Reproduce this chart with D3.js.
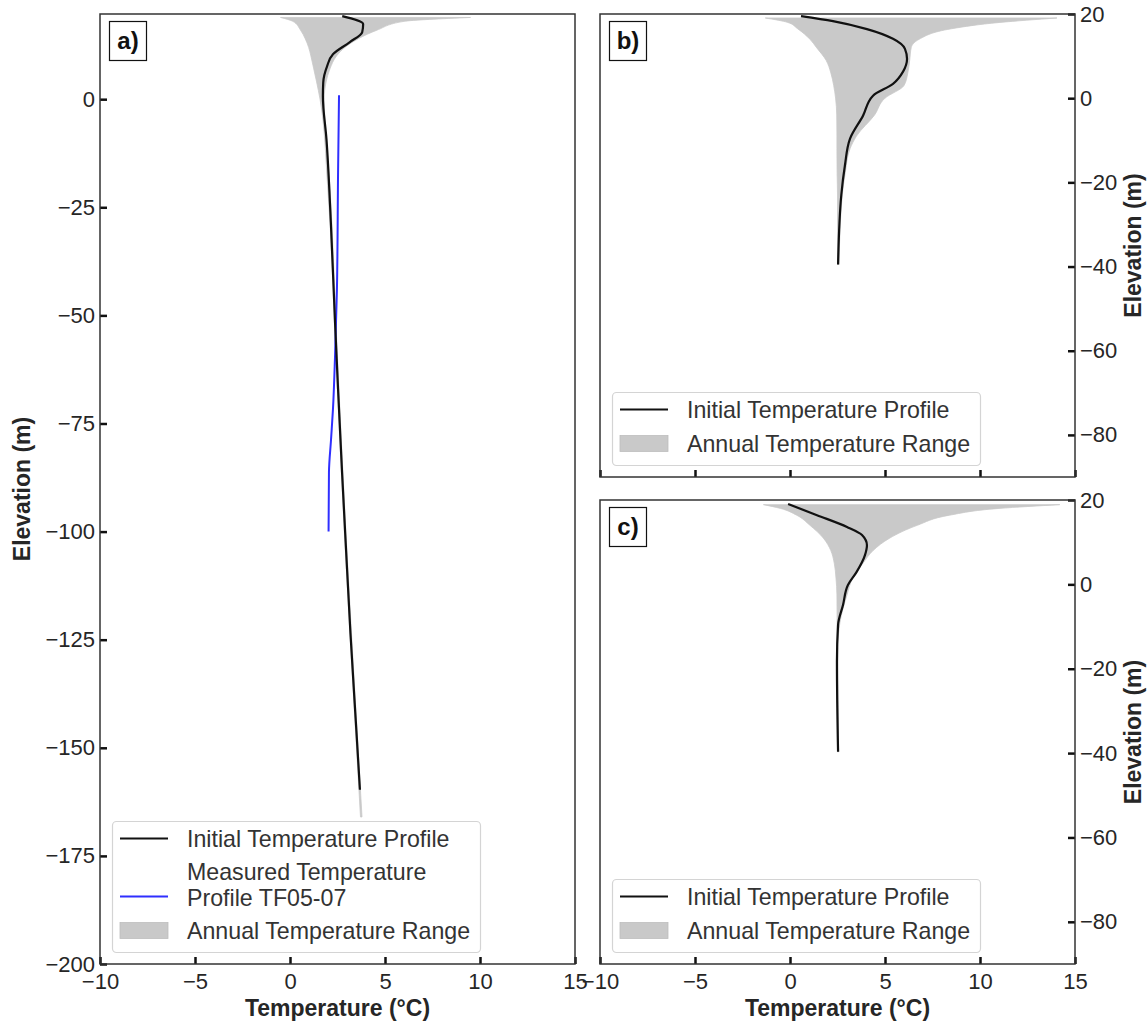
<!DOCTYPE html>
<html><head><meta charset="utf-8">
<script src="https://cdn.jsdelivr.net/npm/d3@7"></script>
<style>
body{margin:0;background:#fff}
svg{display:block}
text{font-family:"Liberation Sans",Arial,sans-serif}
</style>
</head><body>
<svg id="chart" width="1148" height="1022"></svg>
<script>
// ---------- DATA ----------
const tempTicks = [-10, -5, 0, 5, 10, 15];
const elevTicksA = [0, -25, -50, -75, -100, -125, -150, -175, -200];
const elevTicksBC = [20, 0, -20, -40, -60, -80];

// Panel a
const profileA_elev = [19.2, 17.4, 15.5, 13.2, 10.4, 7.6, 3.9, 0.7, -9.3, -28.5, -51.6, -67.1, -86.3, -104.2, -123.4, -146.5, -159.7];
const profileA_temp = [2.75, 3.85, 3.8, 3.15, 2.26, 1.95, 1.75, 1.73, 1.92, 2.15, 2.37, 2.53, 2.74, 2.95, 3.18, 3.5, 3.68];
const measuredA_elev = [0.9, -16.9, -44, -59.5, -71.8, -78.7, -86.3, -100];
const measuredA_temp = [2.58, 2.53, 2.47, 2.37, 2.26, 2.16, 2.05, 2.03];
const rangeA_elev = [18.9, 18, 16, 14, 12, 10, 7, 4, 0, -20, -60, -100, -140, -166];
const rangeA_low  = [-0.5, 0.15, 0.55, 0.8, 0.98, 1.1, 1.25, 1.4, 1.58, 1.98, 2.42, 2.86, 3.37, 3.71];
const rangeA_high = [9.5, 6.0, 4.6, 3.6, 2.9, 2.45, 2.1, 1.9, 1.8, 2.1, 2.5, 2.94, 3.45, 3.79];

// Panel b
const profileB_elev = [19.5, 18.3, 16.4, 14.1, 11.7, 9.3, 6.3, 3.4, 0.6, -4.2, -9.6, -16, -23, -39.5];
const profileB_temp = [0.58, 2.26, 4.05, 5.42, 6.05, 6.16, 5.95, 5.42, 4.37, 3.84, 3.16, 2.89, 2.7, 2.53];
const rangeB_elev = [19.05, 18, 16.5, 14, 12, 9, 6, 3, 0, -4, -9, -12, -18, -23, -39.5];
const rangeB_low  = [-1.3, -0.12, 0.4, 1.05, 1.4, 1.9, 2.15, 2.3, 2.4, 2.46, 2.47, 2.47, 2.48, 2.5, 2.5];
const rangeB_high = [14.05, 11.05, 8.5, 6.8, 6.38, 6.3, 6.2, 6.0, 5.0, 4.45, 3.5, 3.16, 2.9, 2.75, 2.58];

// Panel c
const profileC_elev = [19.05, 16.4, 13.6, 11.7, 9.3, 7.0, 2.9, -0.15, -4.9, -9.6, -18.4, -39.7];
const profileC_temp = [-0.1, 1.42, 3.0, 3.79, 4.05, 3.95, 3.5, 3.05, 2.79, 2.53, 2.47, 2.53];
const rangeC_elev = [18.9, 18, 16.4, 14, 11, 8, 5, 1.5, -2.5, -9, -15, -39.7];
const rangeC_low  = [-1.4, -0.5, 0.35, 1.05, 1.75, 2.15, 2.33, 2.42, 2.47, 2.48, 2.46, 2.5];
const rangeC_high = [14.2, 11.0, 8.4, 6.7, 5.26, 4.37, 3.84, 3.3, 3.0, 2.63, 2.52, 2.56];

const legendA = ["Initial Temperature Profile", ["Measured Temperature", "Profile TF05-07"], "Annual Temperature Range"];
const legendBC = ["Initial Temperature Profile", "Annual Temperature Range"];

// ---------- DRAW ----------
const svg = d3.select('#chart');
const TXT = '#262626';
const FILL = '#c9c9c9';
const fmt = d => d < 0 ? '\u2212' + Math.abs(d) : String(d);
const zip2 = (e, t) => e.map((v, i) => ({e: v, t: t[i]}));
const zip3 = (e, lo, hi) => e.map((v, i) => ({e: v, lo: lo[i], hi: hi[i]}));

function panel(cfg) {
  const {x0, x1, y0, y1, id} = cfg;
  const x = d3.scaleLinear().domain([-10, 15]).range([x0, x1]);
  const y = d3.scaleLinear().domain(cfg.yDom).range([y1, y0]);
  const g = svg.append('g');
  g.append('clipPath').attr('id', 'clip' + id)
    .append('rect').attr('x', x0).attr('y', y0).attr('width', x1 - x0).attr('height', y1 - y0);
  const plot = g.append('g').attr('clip-path', `url(#clip${id})`);

  plot.append('path').datum(zip3(cfg.rE, cfg.rL, cfg.rH))
    .attr('d', d3.area().y(d => y(d.e)).x0(d => x(d.lo)).x1(d => x(d.hi)).curve(d3.curveMonotoneY))
    .attr('fill', FILL).attr('stroke', FILL).attr('stroke-width', 0.8);

  const line = d3.line().y(d => y(d.e)).x(d => x(d.t)).curve(d3.curveMonotoneY);
  if (cfg.mE) {
    plot.append('path').datum(zip2(cfg.mE, cfg.mT)).attr('d', line)
      .attr('fill', 'none').attr('stroke', '#2f2fff').attr('stroke-width', 2);
  }
  plot.append('path').datum(zip2(cfg.pE, cfg.pT)).attr('d', line)
    .attr('fill', 'none').attr('stroke', '#111').attr('stroke-width', 2.2);

  // axes
  const xa = d3.axisBottom(x).tickValues(tempTicks).tickSizeInner(-7).tickSizeOuter(0).tickPadding(9)
    .tickFormat(cfg.xLabels ? fmt : () => '');
  const gx = g.append('g').attr('transform', `translate(0,${y1})`).call(xa);
  let ya;
  if (cfg.yRight) ya = d3.axisRight(y);
  else ya = d3.axisLeft(y);
  ya.tickValues(cfg.yTicks).tickSizeInner(-7).tickSizeOuter(0).tickPadding(5).tickFormat(fmt);
  const gy = g.append('g').attr('transform', `translate(${cfg.yRight ? x1 : x0},0)`).call(ya);
  [gx, gy].forEach(a => {
    a.select('.domain').remove();
    a.selectAll('.tick line').attr('stroke', '#111').attr('stroke-width', 2.5);
    a.selectAll('.tick text').attr('fill', TXT).style('font-size', '22px')
      .style('font-family', '"Liberation Sans",Arial,sans-serif');
  });

  // frame
  g.append('rect').attr('x', x0).attr('y', y0).attr('width', x1 - x0).attr('height', y1 - y0)
    .attr('fill', 'none').attr('stroke', '#333').attr('stroke-width', 1.5);

  // panel label
  g.append('rect').attr('x', x0 + 9.5).attr('y', y0 + 7.5).attr('width', 37).attr('height', 39)
    .attr('fill', '#fff').attr('stroke', '#111').attr('stroke-width', 1.2);
  g.append('text').attr('x', x0 + 28).attr('y', y0 + 35).attr('text-anchor', 'middle')
    .attr('font-weight', 'bold').attr('font-size', 24).attr('fill', '#111').text(cfg.label);

  // axis labels
  if (cfg.xLabels) {
    g.append('text').attr('x', (x0 + x1) / 2).attr('y', 1016).attr('text-anchor', 'middle')
      .attr('font-weight', 'bold').attr('font-size', 23).attr('fill', TXT).text('Temperature (\u00B0C)');
  }
  const ly = (y0 + y1) / 2;
  const lx = cfg.yRight ? 1141 : 30;
  g.append('text').attr('transform', `translate(${lx},${ly}) rotate(-90)`).attr('text-anchor', 'middle')
    .attr('font-weight', 'bold').attr('font-size', 23).attr('fill', TXT).text('Elevation (m)');

  // legend
  const items = cfg.legend;
  const rowH = 34;
  const lh = cfg.legendH;
  const lxx = x0 + 12, lyy = y1 - 12 - lh;
  const lg = g.append('g');
  lg.append('rect').attr('x', lxx + 0.5).attr('y', lyy + 0.5).attr('width', 368).attr('height', lh)
    .attr('rx', 4).attr('fill', '#fff').attr('fill-opacity', 0.8).attr('stroke', '#d4d4d4').attr('stroke-width', 1.2);
  let cy = lyy + 17.5;
  items.forEach((it, i) => {
    const isLast = i === items.length - 1;
    const multi = Array.isArray(it);
    const center = multi ? cy + 12 : cy;
    if (isLast) {
      lg.append('rect').attr('x', lxx + 8).attr('y', center - 8).attr('width', 48).attr('height', 16)
        .attr('fill', FILL).attr('stroke', '#bdbdbd').attr('stroke-width', 0.8);
    } else {
      const ly2 = center + (multi ? 12 : 0);
      lg.append('line').attr('x1', lxx + 8).attr('x2', lxx + 56).attr('y1', ly2).attr('y2', ly2)
        .attr('stroke', i === 1 ? '#2f2fff' : '#111').attr('stroke-width', 2.2);
    }
    const lines = multi ? it : [it];
    lines.forEach((s, k) => {
      lg.append('text').attr('x', lxx + 75).attr('y', (multi ? cy - 0.5 + k * 26 : cy)).attr('dy', '0.36em')
        .attr('font-size', 23.2).attr('fill', '#333').text(s);
    });
    cy += multi ? 58 : rowH;
  });
}

panel({id: 'a', label: 'a)', x0: 100, x1: 575, y0: 14, y1: 964, yDom: [-200, 19.7], yTicks: elevTicksA,
  yRight: false, xLabels: true,
  pE: profileA_elev, pT: profileA_temp, mE: measuredA_elev, mT: measuredA_temp,
  rE: rangeA_elev, rL: rangeA_low, rH: rangeA_high, legend: legendA, legendH: 131});
panel({id: 'b', label: 'b)', x0: 600, x1: 1075, y0: 14, y1: 477, yDom: [-90, 20], yTicks: elevTicksBC,
  yRight: true, xLabels: false,
  pE: profileB_elev, pT: profileB_temp,
  rE: rangeB_elev, rL: rangeB_low, rH: rangeB_high, legend: legendBC, legendH: 73});
panel({id: 'c', label: 'c)', x0: 600, x1: 1075, y0: 500, y1: 964, yDom: [-90, 20], yTicks: elevTicksBC,
  yRight: true, xLabels: true,
  pE: profileC_elev, pT: profileC_temp,
  rE: rangeC_elev, rL: rangeC_low, rH: rangeC_high, legend: legendBC, legendH: 73});
</script>
</body></html>
